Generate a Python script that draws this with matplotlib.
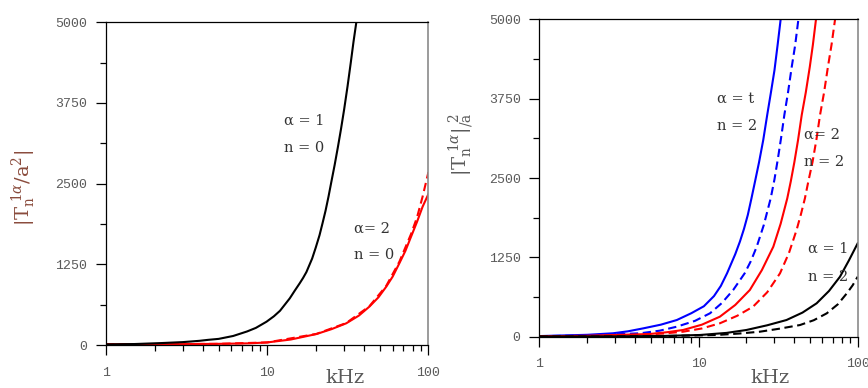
import matplotlib
matplotlib.use('Agg')
import matplotlib.pyplot as plt
from matplotlib.ticker import FixedLocator, FixedFormatter, LogLocator, NullFormatter

plt.rcParams['mathtext.fontset'] = 'dejavuserif'

# ---- left panel data (n = 0) ----
fL_a1 = [1, 1.5, 2.2, 3, 3.8, 4.3, 5, 6.15, 7.5, 8.5, 9.9, 11, 12, 13.8, 14.8,
         15.9, 16.7, 17.5, 19, 20, 21.1, 22, 23, 24, 25, 26.2, 27.5, 28.7, 30,
         31.5, 33, 34.3, 35.7]
vL_a1 = [10, 15, 30, 45, 65, 80, 95, 140, 210, 265, 361, 445, 530, 723, 840,
         956, 1040, 1130, 1340, 1510, 1700, 1880, 2080, 2300, 2530, 2790, 3080,
         3350, 3650, 4010, 4380, 4700, 5000]

fL_a2 = [1, 3, 5, 7.8, 10, 14, 20.2, 25, 30.9, 37, 43, 49, 54.7, 60, 66, 72, 78,
         85, 92, 100]
vL_a2 = [12, 14, 18, 26, 40, 85, 170, 245, 336, 455, 594, 740, 903, 1060, 1266,
         1460, 1678, 1910, 2143, 2340]

fL_a2d = [1, 5, 10, 20.2, 30.9, 43, 54.7, 66, 78, 85, 92, 100]
vL_a2d = [12, 18, 40, 172, 340, 600, 915, 1290, 1720, 1980, 2300, 2680]

# ---- right panel data (n = 2) ----
fR_bs = [1, 2, 2.9, 3.6, 4.5, 5.8, 7.3, 9, 10.8, 12.5, 13.8, 15.1, 17, 18.2,
         19.3, 20.4, 21.5, 22.7, 24, 25.5, 27, 28.5, 30, 31.4, 32.8]
vR_bs = [10, 30, 54, 85, 132, 190, 263, 370, 480, 640, 800, 999, 1300, 1500,
         1700, 1920, 2180, 2460, 2750, 3100, 3493, 3850, 4200, 4600, 5000]

fR_bd = [1, 2, 4.3, 5.7, 7.3, 9.5, 11.8, 14, 16.5, 19.5, 21.3, 23.2, 25.7, 28.4,
         30, 31.5, 33, 34.6, 36.5, 38.5, 40.5, 42.4]
vR_bd = [8, 20, 54, 95, 158, 250, 369, 530, 736, 1000, 1190, 1418, 1760, 2180,
         2480, 2800, 3130, 3493, 3850, 4250, 4600, 5000]

fR_rs = [1, 2, 4.9, 6.3, 8, 10.5, 13.6, 17, 21, 25, 29.5, 32.8, 36.1, 38, 40,
         42.2, 44.5, 47.2, 50, 52.3, 54.7]
vR_rs = [6, 15, 42, 70, 106, 190, 315, 500, 736, 1050, 1418, 1780, 2180, 2450,
         2750, 3100, 3493, 3850, 4250, 4600, 5000]

fR_rd = [1, 2, 4, 6, 8, 10.5, 13.6, 17.5, 22, 27, 32.5, 37, 41.3, 44, 46.6, 49,
         52, 55, 58, 61.5, 65, 68.5, 72.1]
vR_rd = [5, 10, 25, 50, 79, 130, 211, 330, 473, 700, 999, 1320, 1681, 1930, 2180,
         2450, 2750, 3100, 3493, 3850, 4250, 4600, 5000]

fR_ks = [1, 3, 6, 10.2, 15, 20, 27, 35.7, 45, 55.2, 66, 77.4, 88, 100]
vR_ks = [3, 5, 12, 27, 60, 106, 180, 263, 380, 526, 720, 945, 1200, 1471]

fR_kd = [1, 3, 6, 13, 18, 24.3, 32, 43.4, 53, 63.9, 75, 85.5, 93, 100]
vR_kd = [2, 4, 10, 27, 50, 79, 125, 184, 260, 368, 510, 684, 810, 945]

yticks = [0, 1250, 2500, 3750, 5000]
xticks = [1, 10, 100]
xticklabels = ['1', '10', '100']

GRAY = '#5a5a5a'
DASH = (0, (4, 2.2))

fig = plt.figure(figsize=(8.68, 3.88), dpi=100)
axL = fig.add_axes([0.1221, 0.1108, 0.3715, 0.8317])
axR = fig.add_axes([0.6215, 0.1322, 0.3666, 0.8178])


def style(ax):
    ax.set_xscale('log')
    ax.set_xlim(1, 100)
    ax.set_ylim(0, 5000)
    ax.xaxis.set_major_locator(FixedLocator(xticks))
    ax.xaxis.set_major_formatter(FixedFormatter(xticklabels))
    ax.xaxis.set_minor_locator(LogLocator(base=10, subs=range(2, 10)))
    ax.xaxis.set_minor_formatter(NullFormatter())
    ax.set_yticks(yticks)
    ax.set_yticks([625, 1875, 3125, 4375], minor=True)
    ax.tick_params(axis='both', which='major', direction='out', length=7.5,
                   width=0.9, colors='black', labelcolor=GRAY, labelsize=9.5)
    ax.tick_params(axis='both', which='minor', direction='out', length=4,
                   width=0.9, colors='black')
    ax.tick_params(axis='x', which='major', pad=8)
    ax.tick_params(axis='y', which='major', pad=6)
    for lab in ax.get_xticklabels() + ax.get_yticklabels():
        lab.set_family('Liberation Mono')
    for s in ['left', 'bottom', 'top']:
        ax.spines[s].set_color('black')
        ax.spines[s].set_linewidth(0.9)
    ax.spines['right'].set_color('#8a8a8a')
    ax.spines['right'].set_linewidth(1.2)


style(axL)
style(axR)

# left panel curves
axL.plot(fL_a2d, vL_a2d, color='red', lw=1.5, linestyle=DASH)
axL.plot(fL_a2, vL_a2, color='red', lw=1.5)
axL.plot(fL_a1, vL_a1, color='black', lw=1.5)

# right panel curves
axR.plot(fR_bs, vR_bs, color='blue', lw=1.5)
axR.plot(fR_bd, vR_bd, color='blue', lw=1.5, linestyle=DASH)
axR.plot(fR_rs, vR_rs, color='red', lw=1.5)
axR.plot(fR_rd, vR_rd, color='red', lw=1.5, linestyle=DASH)
axR.plot(fR_ks, vR_ks, color='black', lw=1.5)
axR.plot(fR_kd, vR_kd, color='black', lw=1.5, linestyle=DASH)

lab_kw = dict(family='DejaVu Serif', fontsize=10.5, color='#333333',
              ha='left', va='center')
axL.text(12.8, 3471, 'α = 1', **lab_kw)
axL.text(12.8, 3052, 'n = 0', **lab_kw)
axL.text(34.3, 1797, 'α= 2', **lab_kw)
axL.text(34.3, 1394, 'n = 0', **lab_kw)

axR.text(13.0, 3745, 'α = t', **lab_kw)
axR.text(13.0, 3320, 'n = 2', **lab_kw)
axR.text(46, 3178, 'α= 2', **lab_kw)
axR.text(46, 2750, 'n = 2', **lab_kw)
axR.text(48.7, 1382, 'α = 1', **lab_kw)
axR.text(48.7, 940, 'n = 2', **lab_kw)

# axis titles
fig.text(24 / 868, 1 - 188 / 388, r'$|\mathrm{T}_\mathrm{n}^{\ 1\alpha}/\mathrm{a}^2|$',
         rotation=90, ha='center', va='center', fontsize=14, color='#8a4b3c')
fig.text(462 / 868, 1 - 144 / 388,
         r'$|\mathrm{T}_\mathrm{n}^{\ 1\alpha}|_{/\mathrm{a}}^{\ 2}$',
         rotation=90, ha='center', va='center', fontsize=14, color=GRAY)
fig.text(345 / 868, 1 - 378 / 388, 'kHz', family='DejaVu Serif', fontsize=14,
         color=GRAY, ha='center', va='center')
fig.text(770 / 868, 1 - 378 / 388, 'kHz', family='DejaVu Serif', fontsize=14,
         color=GRAY, ha='center', va='center')

fig.savefig('out.png', dpi=100)
